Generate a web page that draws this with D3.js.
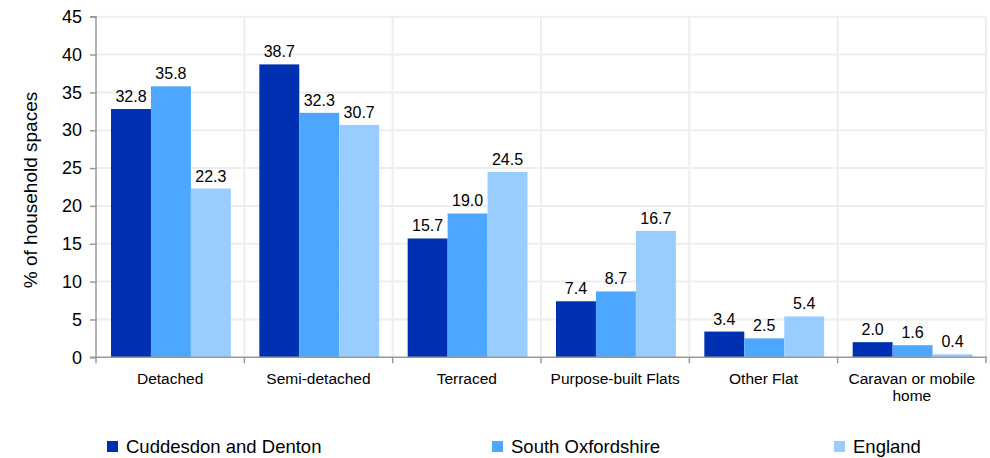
<!DOCTYPE html>
<html>
<head>
<meta charset="utf-8">
<script src="https://cdn.jsdelivr.net/npm/d3@7"></script>
<style>
  html, body { margin: 0; padding: 0; background: #fff; }
  text { font-family: "Liberation Sans", Arial, sans-serif; fill: #000; }
</style>
</head>
<body>
<svg id="chart" width="990" height="458"></svg>
<script>
const categories = ["Detached", "Semi-detached", "Terraced", "Purpose-built Flats", "Other Flat", "Caravan or mobile home"];
const seriesNames = ["Cuddesdon and Denton", "South Oxfordshire", "England"];
const cuddesdon = [32.8, 38.7, 15.7, 7.4, 3.4, 2.0];
const southOxon = [35.8, 32.3, 19.0, 8.7, 2.5, 1.6];
const england = [22.3, 30.7, 24.5, 16.7, 5.4, 0.4];
const yTicks = [0, 5, 10, 15, 20, 25, 30, 35, 40, 45];
const colors = ["#0030B2", "#4DA6FF", "#99CCFF"];

const seriesValues = [cuddesdon, southOxon, england];

const svg = d3.select("#chart");
const m = { left: 96, right: 986, top: 16.7, bottom: 357.3 };

const x0 = d3.scaleBand().domain(categories).range([m.left, m.right]).paddingInner(0).paddingOuter(0);
const x1 = d3.scaleBand().domain(seriesNames).range([15, x0.bandwidth() - 13.5]).padding(0);
const y = d3.scaleLinear().domain([0, 45]).range([m.bottom, m.top]);

// horizontal gridlines
svg.append("g").selectAll("line").data(yTicks.filter(d => d > 0)).join("line")
  .attr("x1", m.left).attr("x2", m.right)
  .attr("y1", d => y(d)).attr("y2", d => y(d))
  .attr("stroke", "#eeeeee").attr("stroke-width", 2);

// vertical gridlines at category boundaries
const boundaries = categories.map(c => x0(c) + x0.bandwidth());
svg.append("g").selectAll("line").data(boundaries).join("line")
  .attr("x1", d => d).attr("x2", d => d)
  .attr("y1", m.top).attr("y2", m.bottom)
  .attr("stroke", "#eeeeee").attr("stroke-width", 2);

// bars
const groups = svg.append("g").selectAll("g").data(categories).join("g")
  .attr("transform", c => `translate(${x0(c)},0)`);

const rows = (c, i) => seriesNames.map((s, j) => ({ s, j, v: seriesValues[j][i] }));

groups.selectAll("rect").data(rows)
  .join("rect")
  .attr("x", d => x1(d.s))
  .attr("width", x1.bandwidth())
  .attr("y", d => y(d.v))
  .attr("height", d => y(0) - y(d.v))
  .attr("fill", d => colors[d.j]);

groups.selectAll("text").data(rows)
  .join("text")
  .attr("x", d => x1(d.s) + x1.bandwidth() / 2)
  .attr("y", d => y(d.v) - 7)
  .attr("text-anchor", "middle")
  .style("font-size", "16px")
  .text(d => d.v.toFixed(1));

// y axis
const yAxis = d3.axisLeft(y).tickValues(yTicks).tickSize(6).tickPadding(8).tickFormat(d3.format("d"));
const gy = svg.append("g").attr("transform", `translate(${m.left},0)`).call(yAxis);
gy.select(".domain").attr("stroke", "#999999").attr("stroke-width", 1.5).attr("d", `M-6,${m.top}H0V${m.bottom}`);
gy.selectAll(".tick line").attr("stroke", "#999999").attr("stroke-width", 1.5);
gy.selectAll(".tick text").style("font-size", "18px").attr("fill", "#000").style("font-family", "'Liberation Sans', Arial, sans-serif");

// x axis
const gx = svg.append("g").attr("transform", `translate(0,${m.bottom})`);
gx.append("line").attr("x1", m.left - 6).attr("x2", m.right + 1).attr("y1", 0).attr("y2", 0)
  .attr("stroke", "#999999").attr("stroke-width", 1.5);
const tickXs = [m.left].concat(boundaries);
gx.selectAll("line.tk").data(tickXs).join("line").attr("class", "tk")
  .attr("x1", d => d).attr("x2", d => d).attr("y1", 0).attr("y2", 6)
  .attr("stroke", "#999999").attr("stroke-width", 1.5);

const catLabels = gx.selectAll("text.cat").data(categories).join("text").attr("class", "cat")
  .attr("text-anchor", "middle")
  .attr("x", c => x0(c) + x0.bandwidth() / 2)
  .attr("y", 27)
  .style("font-size", "15.5px");
catLabels.each(function(c) {
  const t = d3.select(this);
  if (c === "Caravan or mobile home") {
    t.append("tspan").attr("x", x0(c) + x0.bandwidth() / 2).attr("dy", 0).text("Caravan or mobile");
    t.append("tspan").attr("x", x0(c) + x0.bandwidth() / 2).attr("dy", 17).text("home");
  } else {
    t.text(c);
  }
});

// y axis title
svg.append("text")
  .attr("transform", `translate(37,${(m.top + m.bottom) / 2 + 3}) rotate(-90)`)
  .attr("text-anchor", "middle")
  .style("font-size", "19px")
  .text("% of household spaces");

// legend
const legendX = [107, 492, 834];
const leg = svg.append("g").selectAll("g").data(seriesNames).join("g")
  .attr("transform", (d, i) => `translate(${legendX[i]},441)`);
leg.append("rect").attr("width", 11).attr("height", 11).attr("fill", (d, i) => colors[i]);
leg.append("text").attr("x", 19).attr("y", 11.5).style("font-size", "18.5px").text(d => d);
</script>
</body>
</html>
